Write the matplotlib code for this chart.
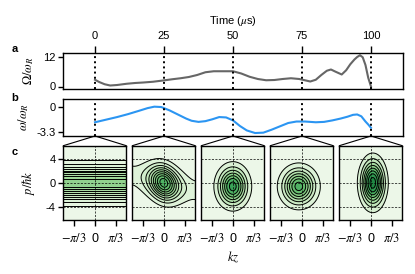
import numpy as np
import matplotlib
matplotlib.use("Agg")
import matplotlib.pyplot as plt
from matplotlib.colors import Normalize
from matplotlib.patches import ConnectionPatch

plt.rcParams["font.family"] = ["Liberation Sans", "DejaVu Sans"]
plt.rcParams["mathtext.fontset"] = "stix"
plt.rcParams["font.size"] = 8
plt.rcParams["axes.linewidth"] = 1.0

# --- panel a: drive amplitude Omega/omega_R vs time (us)
t_omega = [0, 1.5, 3.5, 5.5, 8, 11.5, 14.5, 17.5, 21, 25, 28, 31, 34, 37, 40, 43,
           47, 50, 53, 56, 59, 62, 65, 68, 71, 74, 76, 78, 80, 82, 84, 85.5, 87,
           89.4, 91, 92.5, 94, 95, 96, 97, 98, 99, 100]
omega_amp = [2.7, 1.8, 0.9, 0.4, 0.6, 1.1, 1.4, 1.6, 1.9, 2.45, 2.9, 3.3, 3.8, 4.6,
             5.7, 6.1, 6.1, 6.1, 5.2, 3.9, 3.0, 2.5, 2.6, 3.0, 3.3, 3.0, 2.5, 2.0,
             2.7, 4.6, 6.3, 6.8, 6.0, 4.8, 6.5, 8.9, 10.8, 11.8, 12.5, 11.7, 8.6,
             3.5, 0.0]

# --- panel b: detuning omega/omega_R vs time (us)
t_detune = [0, 4, 8, 12, 16, 19, 21.5, 24, 25, 27, 30, 33, 35, 37.5, 40, 42.5, 45,
            47.5, 50, 52.5, 55, 58, 61, 64, 67, 70, 73, 76, 80, 83, 86, 89, 91.5,
            93.5, 95, 96.5, 98, 99, 100]
detune = [-2.0, -1.65, -1.3, -0.9, -0.45, -0.1, 0.1, 0.05, -0.1, -0.4, -0.95, -1.5,
          -1.8, -1.95, -1.85, -1.6, -1.3, -1.35, -1.75, -2.5, -3.1, -3.45, -3.4,
          -3.0, -2.55, -2.1, -1.9, -1.9, -2.0, -1.95, -1.75, -1.5, -1.25, -1.0,
          -0.95, -1.2, -1.9, -2.3, -2.75]

# --- panel c: phase-space snapshots at these times
snap_times = [0, 25, 50, 75, 100]
# snapshot 1: uniform in z, gaussian in p
band_sigma_p = 1.8
band_peak = 0.5
# snapshot 2: thermal state in the lattice potential
pend_depth = 3.4
pend_temp = 3.5
pend_shear = 0.8
pend_peak = 0.75
# snapshots 3-5: gaussian packets
gauss_z0 = [0.0, -0.15, 0.1]
gauss_p0 = [-0.6, -0.6, 0.0]
gauss_sz = [0.44, 0.50, 0.36]
gauss_sp = [1.95, 1.85, 2.35]
gauss_peak = [0.85, 0.75, 1.0]

W, H = 415, 274
fig = plt.figure(figsize=(W / 100, H / 100), dpi=100)


def box(left, top, right, bottom):
    return [left / W, 1 - bottom / H, (right - left) / W, (bottom - top) / H]


XLIM = (-11.6, 111.6)

ax_a = fig.add_axes(box(63, 52.5, 403, 88.5))
ax_a.plot(t_omega, omega_amp, color="#666666", lw=1.5)
ax_a.set_xlim(*XLIM)
ax_a.set_ylim(-0.8, 13.6)
ax_a.set_yticks([0, 12])
ax_a.xaxis.tick_top()
ax_a.xaxis.set_label_position("top")
ax_a.set_xticks(snap_times)
ax_a.set_xlabel(r"Time ($\mu$s)", labelpad=5)
ax_a.set_ylabel(r"$\Omega/\omega_R$", labelpad=5, fontsize=9)
ax_a.tick_params(axis="x", length=5, width=1.0, pad=3)
ax_a.tick_params(axis="y", length=3.5, width=1.0, pad=2)

ax_b = fig.add_axes(box(63, 98.5, 403, 136))
ax_b.plot(t_detune, detune, color="#2b95f2", lw=1.5)
ax_b.set_xlim(*XLIM)
ax_b.set_ylim(-3.85, 1.2)
ax_b.set_xticks([])
ax_b.set_yticks([0, -3.3])
ax_b.set_yticklabels(["0", "-3.3"])
ax_b.set_ylabel(r"$\omega/\omega_R$", labelpad=4, fontsize=9)
ax_b.tick_params(axis="y", length=3.5, width=1.0, pad=2)

for ax in (ax_a, ax_b):
    for t in snap_times:
        ax.axvline(t, color="k", ls=":", lw=1.4)

# phase-space grid
z = np.linspace(-np.pi / 2, np.pi / 2, 240)
p = np.linspace(-2 * np.pi, 2 * np.pi, 320)
Z, P = np.meshgrid(z, p)

fields = [band_peak * np.exp(-P ** 2 / (2 * band_sigma_p ** 2)) + 0 * Z]
Ps = P + pend_shear * Z
energy = Ps ** 2 / 2 + pend_depth * (1 - np.cos(2 * Z))
fields.append(pend_peak * np.exp(-energy / pend_temp))
for z0, p0, sz, sp, a in zip(gauss_z0, gauss_p0, gauss_sz, gauss_sp, gauss_peak):
    fields.append(a * np.exp(-(Z - z0) ** 2 / (2 * sz ** 2) - (P - p0) ** 2 / (2 * sp ** 2)))
peaks = [band_peak, pend_peak] + gauss_peak
n_levels = [9, 9, 7, 7, 8]

norm = Normalize(vmin=-0.1, vmax=1.3)
lefts = [63.3, 132.3, 201.3, 270.3, 339.3]
for i, (left, t, f, pk, nl) in enumerate(zip(lefts, snap_times, fields, peaks, n_levels)):
    ax = fig.add_axes(box(left, 145.7, left + 63, 220))
    ax.set_facecolor("#ecf7e8")
    levels = np.linspace(0.1, 0.93, nl) * pk
    ax.contourf(Z, P, f, levels=list(levels) + [f.max() + 1e-6], cmap="Greens", norm=norm)
    ax.contour(Z, P, f, levels=levels, colors="k", linewidths=0.7)
    for y in (-4, 0, 4):
        ax.axhline(y, color="k", ls="--", lw=0.5, dashes=(3, 2))
    ax.axvline(0, color="k", ls="--", lw=0.5, dashes=(3, 2))
    ax.set_xlim(-np.pi / 2, np.pi / 2)
    ax.set_ylim(-2 * np.pi, 2 * np.pi)
    ax.set_xticks([-np.pi / 3, 0, np.pi / 3])
    ax.set_xticklabels([r"$-\pi/3$", "0", r"$\pi/3$"], fontsize=9)
    ax.tick_params(axis="x", length=4, width=1.0, pad=5)
    if i == 0:
        ax.set_yticks([4, 0, -4])
        ax.set_yticklabels(["4", "0", "-4"])
        ax.tick_params(axis="y", length=3.5, width=1.0, pad=2)
        ax.set_ylabel(r"$p/\hbar k$", labelpad=6, fontsize=9)
    else:
        ax.set_yticks([])
    if i == 2:
        ax.set_xlabel(r"$kz$", labelpad=3, fontsize=9)
    for corner in ((0, 1), (1, 1)):
        con = ConnectionPatch(xyA=(t, -3.85), coordsA=ax_b.transData,
                              xyB=corner, coordsB=ax.transAxes,
                              color="k", lw=0.8)
        fig.add_artist(con)

for label, y in (("a", 49), ("b", 98), ("c", 152)):
    fig.text(15 / W, 1 - y / H, label, fontweight="bold", fontsize=8,
             ha="center", va="center")

fig.savefig("out.png", dpi=100)
